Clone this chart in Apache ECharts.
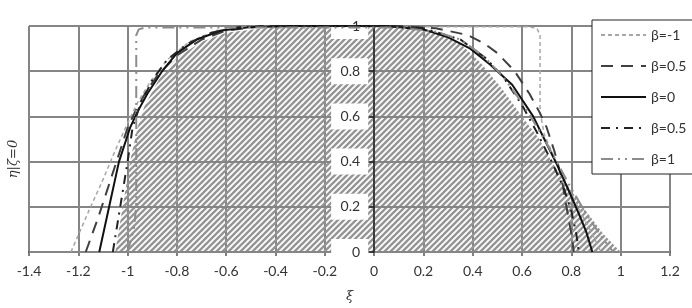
<!DOCTYPE html>
<html lang="en">
<head>
  <meta charset="UTF-8">
  <title>eta vs xi</title>
  <script src="https://cdn.jsdelivr.net/npm/echarts@6/dist/echarts.min.js"></script>
  <style>
    body { margin: 0; background: #fff; }
    #main { width: 692px; height: 308px; }
  </style>
</head>
<body>
<div id="main"></div>
<script type="text/javascript">
  // axis ticks
  var xTicks = [-1.4, 1.2, 0.2];   // min, max, step
  var yTicks = [0, 1, 0.2];

  // legend text (two series carry the same label in the original)
  var legendKeys = ['s0', 's1', 's2', 's3', 's4'];
  var legendText = ['β=-1', 'β=0.5', 'β=0', 'β=0.5', 'β=1'];

  // curves, [xi, eta]
  var betaM1 = [[-1.23,0],[-1.19,0.1],[-1.15,0.2],[-1.1,0.32],[-1.05,0.45],[-1.0,0.57],[-0.96,0.66],[-0.91,0.75],
    [-0.84,0.85],[-0.75,0.93],[-0.64,0.98],[-0.5,0.997],[0.62,0.997],[0.66,0.99],[0.673,0.96],[0.673,0.62],
    [0.69,0.52],[0.73,0.42],[0.78,0.3],[0.83,0.19],[0.88,0.09],[0.92,0]];
  var betaHalfA = [[-1.17,0],[-1.12,0.15],[-1.06,0.35],[-1.0,0.55],[-0.97,0.62],[-0.93,0.7],[-0.88,0.78],[-0.8,0.87],
    [-0.7,0.94],[-0.6,0.98],[-0.45,1.0],[0.1,1.0],[0.25,0.99],[0.38,0.96],[0.45,0.92],[0.5,0.88],[0.57,0.8],
    [0.63,0.7],[0.67,0.62],[0.7,0.55],[0.73,0.45],[0.76,0.33],[0.78,0.2],[0.8,0.08],[0.81,0]];
  var betaZero = [[-1.115,0],[-1.075,0.2],[-1.035,0.4],[-0.99,0.55],[-0.96,0.62],[-0.92,0.7],[-0.86,0.8],[-0.8,0.88],
    [-0.72,0.94],[-0.62,0.98],[-0.5,0.995],[-0.35,1.0],[0.05,1.0],[0.2,0.985],[0.3,0.95],[0.39,0.9],[0.47,0.83],
    [0.56,0.74],[0.645,0.6],[0.69,0.5],[0.74,0.39],[0.79,0.27],[0.83,0.17],[0.86,0.09],[0.885,0]];
  var betaHalfB = [[-1.06,0],[-1.03,0.2],[-1.0,0.4],[-0.98,0.55],[-0.95,0.65],[-0.9,0.76],[-0.84,0.85],[-0.76,0.92],
    [-0.66,0.97],[-0.55,0.995],[-0.4,1.0],[0.05,1.0],[0.2,0.99],[0.35,0.94],[0.45,0.86],[0.52,0.78],[0.6,0.65],
    [0.66,0.53],[0.72,0.4],[0.77,0.28],[0.8,0.18],[0.82,0.08],[0.83,0]];
  var betaOne = [[-1.0,0],[-0.975,0.1],[-0.965,0.2],[-0.965,0.96],[-0.955,0.985],[-0.93,0.993],[0.1,0.993],
    [0.25,0.975],[0.35,0.94],[0.44,0.87],[0.52,0.78],[0.58,0.69],[0.64,0.59],[0.7,0.48],[0.75,0.38],[0.8,0.28],
    [0.86,0.17],[0.92,0.07],[0.97,0]];
  // hatched region outline
  var hatchArea = [[-1.05,0],[-1.02,0.2],[-0.99,0.4],[-0.96,0.55],[-0.93,0.65],[-0.87,0.77],[-0.8,0.86],[-0.7,0.93],
    [-0.6,0.97],[-0.45,0.99],[-0.3,1.0],[0.1,1.0],[0.25,0.97],[0.35,0.92],[0.43,0.84],[0.52,0.72],[0.6,0.6],
    [0.67,0.5],[0.72,0.4],[0.78,0.3],[0.86,0.18],[0.93,0.08],[1.0,0]];

  function hatchPattern() {
    var c = document.createElement('canvas');
    c.width = 6; c.height = 6;
    var g = c.getContext('2d');
    g.strokeStyle = '#959595';
    g.lineWidth = 2.4;
    g.beginPath();
    g.moveTo(0, 6); g.lineTo(6, 0);
    g.moveTo(-3, 3); g.lineTo(3, -3);
    g.moveTo(3, 9); g.lineTo(9, 3);
    g.stroke();
    return c;
  }

  var font = 'Lato';
  var gridLeft = 29, gridRight = 22;
  var myChart = echarts.init(document.getElementById('main'));
  // y axis sits on xi = 0
  var plotW = 692 - gridLeft - gridRight;
  var yOffset = -plotW * (0 - xTicks[0]) / (xTicks[1] - xTicks[0]);

  function curve(key, data, color, width, dash) {
    return {
      name: key, type: 'line', data: data, symbol: 'none', z: 3, silent: true,
      itemStyle: { color: color },
      lineStyle: { color: color, width: width, type: dash }
    };
  }

  var option = {
    animation: false,
    grid: { left: gridLeft, right: gridRight, top: 26, bottom: 46 },
    legend: {
      data: legendKeys,
      formatter: function (n) { return legendText[legendKeys.indexOf(n)]; },
      orient: 'vertical', left: 592, top: 20,
      itemWidth: 45, itemHeight: 14, itemGap: 17,
      padding: [8, 8, 8, 8],
      itemStyle: { opacity: 0, borderWidth: 0 },
      backgroundColor: '#fff', borderColor: '#222', borderWidth: 1, borderRadius: 0,
      textStyle: { fontFamily: font, fontSize: 14, color: '#333' }
    },
    xAxis: {
      type: 'value', min: xTicks[0], max: xTicks[1], interval: xTicks[2], z: 0,
      name: 'ξ', nameLocation: 'middle', nameGap: 38,
      nameTextStyle: { fontFamily: 'DejaVu Serif', fontStyle: 'italic', fontSize: 13, color: '#333' },
      axisLine: { show: true, lineStyle: { color: '#555', width: 2 } },
      axisTick: { show: true, length: 4, lineStyle: { color: '#555', width: 1.5 } },
      axisLabel: { fontFamily: font, fontSize: 14, color: '#333', margin: 12,
        formatter: function (v) { return (+v.toFixed(1)).toString(); } },
      splitLine: { show: true, lineStyle: { color: '#858585', width: 2 } }
    },
    yAxis: {
      type: 'value', min: yTicks[0], max: yTicks[1], interval: yTicks[2], z: 2,
      offset: yOffset,
      axisLine: { show: true, onZero: false, lineStyle: { color: '#222', width: 1.5 } },
      axisTick: { show: true, length: 5, lineStyle: { color: '#222', width: 1.5 } },
      axisLabel: { fontFamily: font, fontSize: 14, color: '#333', margin: 6,
        backgroundColor: '#fff', padding: [9, 8, 3, 9], width: 20, lineHeight: 14,
        formatter: function (v) { return (+v.toFixed(1)).toString(); } },
      splitLine: { show: true, lineStyle: { color: '#858585', width: 2 } }
    },
    graphic: [{
      type: 'text', x: 14, y: 159, rotation: Math.PI / 2, z: 10,
      style: { text: 'η|ζ=0', fontFamily: 'DejaVu Serif', fontStyle: 'italic', fontSize: 13,
        fill: '#333', align: 'center', verticalAlign: 'middle' }
    }],
    series: [
      {
        name: 'hatch', type: 'line', data: hatchArea, symbol: 'none', z: 1, silent: true,
        lineStyle: { width: 0 },
        areaStyle: { color: { image: hatchPattern(), repeat: 'repeat' }, opacity: 1 }
      },
      curve('s0', betaM1, '#a6a6a6', 1.5, [4, 3]),
      curve('s1', betaHalfA, '#404040', 2, [12, 8]),
      curve('s2', betaZero, '#111', 2, 'solid'),
      curve('s3', betaHalfB, '#222', 2, [9, 6, 2, 6]),
      curve('s4', betaOne, '#8c8c8c', 2, [12, 5, 2, 5, 2, 5])
    ]
  };
  myChart.setOption(option);
</script>
</body>
</html>
